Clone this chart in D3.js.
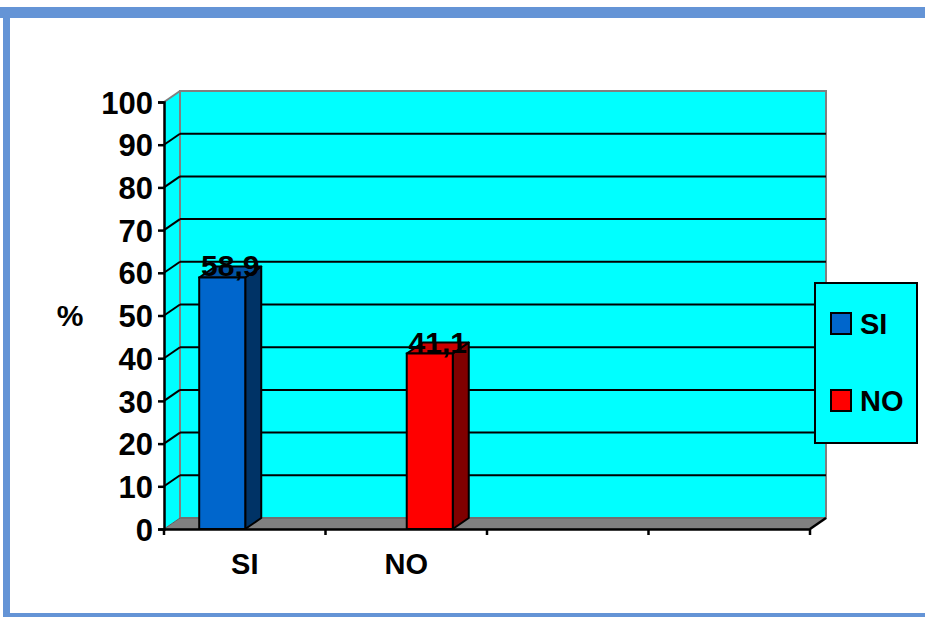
<!DOCTYPE html>
<html>
<head>
<meta charset="utf-8">
<script src="https://cdn.jsdelivr.net/npm/d3@7"></script>
<style>
  html, body { margin: 0; padding: 0; background: #fff; }
  text { font-family: Arial, "Liberation Sans", sans-serif; font-weight: bold; fill: #000; }
</style>
</head>
<body>
<svg id="chart" width="925" height="617"></svg>
<script>
(function () {
  "use strict";

  // data
  var categories = ["SI", "NO", "c3", "c4"];
  var categoryLabels = ["SI", "NO", "", ""];
  var seriesNames = ["SI", "NO"];
  var seriesSI = [58.9, null, null, null];
  var seriesNO = [null, 41.1, null, null];
  var yTicks = [0, 10, 20, 30, 40, 50, 60, 70, 80, 90, 100];
  var valueLabels = ["58,9", "41,1"];

  var colors = {
    SI: { front: "#0066cc", side: "#003366", top: "#0052a3" },
    NO: { front: "#ff0000", side: "#800000", top: "#cc0000" }
  };

  var svg = d3.select("#chart");
  var dx = 16, dy = -11;

  var y = d3.scaleLinear().domain([0, 100]).range([529, 102]);
  var x = d3.scaleBand().domain(categories).range([164, 810]).padding(0);
  var xs = d3.scaleBand().domain(seriesNames)
      .range([x.bandwidth() * 0.218, x.bandwidth() * 0.788]).padding(0);

  // frame
  var frame = "#6494d6";
  svg.append("rect").attr("x", 0).attr("y", 7).attr("width", 925).attr("height", 11).attr("fill", frame);
  svg.append("rect").attr("x", 3).attr("y", 7).attr("width", 7).attr("height", 610).attr("fill", frame);
  svg.append("rect").attr("x", 3).attr("y", 613).attr("width", 922).attr("height", 4).attr("fill", frame);

  var x0 = x.range()[0], x1 = x.range()[1];
  var yb = y(0), yt = y(100);

  // side wall
  svg.append("polygon")
      .attr("points", [[x0, yb], [x0, yt], [x0 + dx, yt + dy], [x0 + dx, yb + dy]].join(" "))
      .attr("fill", "#00ffff");
  svg.append("line")
      .attr("x1", x0).attr("y1", yt).attr("x2", x0 + dx).attr("y2", yt + dy)
      .attr("stroke", "#808080").attr("stroke-width", 2);

  // back wall
  svg.append("rect")
      .attr("x", x0 + dx).attr("y", yt + dy)
      .attr("width", x1 - x0).attr("height", yb - yt)
      .attr("fill", "#00ffff").attr("stroke", "#808080").attr("stroke-width", 2);

  // floor
  svg.append("polygon")
      .attr("points", [[x0, yb], [x1, yb], [x1 + dx, yb + dy], [x0 + dx, yb + dy]].join(" "))
      .attr("fill", "#808080").attr("stroke", "#606060").attr("stroke-width", 1);

  // gridlines
  var grid = svg.append("g");
  yTicks.slice(1, -1).forEach(function (t) {
    grid.append("line")
        .attr("x1", x0 + dx).attr("x2", x1 + dx)
        .attr("y1", y(t) + dy).attr("y2", y(t) + dy)
        .attr("stroke", "#000").attr("stroke-width", 2);
    grid.append("line")
        .attr("x1", x0).attr("x2", x0 + dx)
        .attr("y1", y(t)).attr("y2", y(t) + dy)
        .attr("stroke", "#000").attr("stroke-width", 2);
  });

  // bars
  function drawSeries(name, values) {
    var c = colors[name];
    var g = svg.append("g");
    values.forEach(function (v, i) {
      if (v == null) return;
      var bx = x(categories[i]) + xs(name);
      var bw = xs.bandwidth();
      var by = y(v);
      g.append("polygon")
          .attr("points", [[bx + bw, yb], [bx + bw, by], [bx + bw + dx, by + dy], [bx + bw + dx, yb + dy]].join(" "))
          .attr("fill", c.side).attr("stroke", "#000").attr("stroke-width", 2).attr("stroke-linejoin", "round");
      g.append("polygon")
          .attr("points", [[bx, by], [bx + bw, by], [bx + bw + dx, by + dy], [bx + dx, by + dy]].join(" "))
          .attr("fill", c.top).attr("stroke", "#000").attr("stroke-width", 2).attr("stroke-linejoin", "round");
      g.append("rect")
          .attr("x", bx).attr("y", by).attr("width", bw).attr("height", yb - by)
          .attr("fill", c.front).attr("stroke", "#000").attr("stroke-width", 2);
    });
  }
  drawSeries("SI", seriesSI);
  drawSeries("NO", seriesNO);

  // axes (front)
  var yAxis = d3.axisLeft(y).tickValues(yTicks).tickSize(6).tickPadding(5);
  var gy = svg.append("g").attr("transform", "translate(" + x0 + ",0)").call(yAxis);
  gy.select(".domain").attr("stroke", "#000").attr("stroke-width", 2.5);
  gy.selectAll(".tick line").attr("stroke", "#000").attr("stroke-width", 2.5);
  gy.selectAll(".tick text").attr("font-size", 31).attr("font-family", "Arial, 'Liberation Sans', sans-serif")
      .attr("font-weight", "bold").attr("fill", "#000").attr("dy", "0.36em");

  var xAxis = d3.axisBottom(x).tickSize(0).tickFormat(function (d, i) { return categoryLabels[i]; });
  var gx = svg.append("g").attr("transform", "translate(0," + yb + ")").call(xAxis);
  gx.select(".domain").attr("stroke", "#000").attr("stroke-width", 2.5);
  gx.selectAll(".tick text").attr("font-size", 29).attr("font-family", "Arial, 'Liberation Sans', sans-serif")
      .attr("font-weight", "bold").attr("fill", "#000").attr("y", 45).attr("dy", 0);
  // category boundary ticks
  var edges = categories.map(function (c) { return x(c); }).concat([x1]);
  edges.forEach(function (e) {
    svg.append("line").attr("x1", e).attr("x2", e).attr("y1", yb).attr("y2", yb + 6)
        .attr("stroke", "#000").attr("stroke-width", 2.5);
  });
  svg.append("line").attr("x1", x1).attr("y1", yb).attr("x2", x1 + dx).attr("y2", yb + dy)
      .attr("stroke", "#000").attr("stroke-width", 2.5);

  // value labels
  [seriesSI, seriesNO].forEach(function (vals, k) {
    var name = seriesNames[k];
    vals.forEach(function (v, i) {
      if (v == null) return;
      var cx = x(categories[i]) + xs(name) + (xs.bandwidth() + dx) / 2;
      svg.append("text").attr("x", cx).attr("y", y(v) - 1)
          .attr("text-anchor", "middle").attr("font-size", 30)
          .text(valueLabels[k]);
    });
  });

  // y title
  svg.append("text").attr("x", 70).attr("y", 326).attr("text-anchor", "middle")
      .attr("font-size", 30).text("%");

  // legend
  var lg = svg.append("g").attr("transform", "translate(815,283)");
  lg.append("rect").attr("width", 102).attr("height", 160)
      .attr("fill", "#00ffff").attr("stroke", "#000").attr("stroke-width", 2);
  seriesNames.forEach(function (n, i) {
    var ly = 30 + i * 77;
    lg.append("rect").attr("x", 16).attr("y", ly).attr("width", 20).attr("height", 21)
        .attr("fill", colors[n].front).attr("stroke", "#000").attr("stroke-width", 2);
    lg.append("text").attr("x", 45).attr("y", ly + 21).attr("font-size", 29).text(n);
  });
}());
</script>
</body>
</html>
